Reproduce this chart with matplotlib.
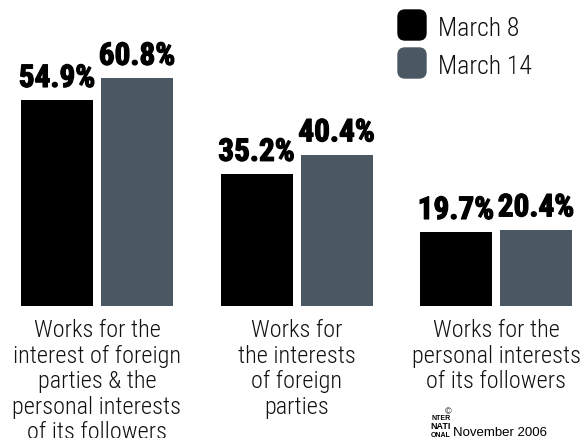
import matplotlib
matplotlib.use("Agg")
import matplotlib.pyplot as plt
import matplotlib.patheffects as pe
from matplotlib.patches import FancyBboxPatch
import numpy as np

# data
categories = [
    "Works for the\ninterest of foreign\nparties & the\npersonal interests\nof its followers",
    "Works for\nthe interests\nof foreign\nparties",
    "Works for the\npersonal interests\nof its followers",
]
series_names = ["March 8", "March 14"]
march_8 = [54.9, 35.2, 19.7]
march_14 = [60.8, 40.4, 20.4]
colors = ["#000000", "#4b5763"]

W, H = 584, 439
fig = plt.figure(figsize=(W / 100, H / 100), dpi=100)
ax = fig.add_axes([0, 0, 1, 1])

# pixel geometry -> data limits (groups 199.5 px apart, baseline at y=307 px)
group_px = 199.5
first_px = 97
unit_px = 3.75
base_px = 307
ax.set_xlim(-first_px / group_px, (W - first_px) / group_px)
ax.set_ylim(-(H - base_px) / unit_px, base_px / unit_px)
ax.axis("off")

COND = "Roboto Condensed"

x = np.arange(len(categories))
width = 72 / group_px
off = 40 / group_px

heavy = [pe.withStroke(linewidth=0.9, foreground="black")]
for vals, dx, c in [(march_8, -off, colors[0]), (march_14, off, colors[1])]:
    bars = ax.bar(x + dx, vals, width, color=c)
    for b, v in zip(bars, vals):
        ax.annotate(f"{v}%", (b.get_x() + b.get_width() / 2, v),
                    xytext=(0, 9.5), textcoords="offset points",
                    ha="center", va="baseline", path_effects=heavy,
                    family=COND, weight="bold", size=22.5)

for xi, lab in zip(x, categories):
    ax.annotate(lab, (xi, 0), xytext=(0, -9), textcoords="offset points",
                ha="center", va="top", family=COND, weight="light",
                size=17.5, linespacing=1.13, color="#111111")

# legend with rounded swatches (figure pixel coords)
def px(xp, yp):
    return xp / W, 1 - yp / H

for i, (name, c) in enumerate(zip(series_names, colors)):
    top = 11 + i * 38
    x0, y0 = px(398, top + 30)
    sw = FancyBboxPatch((x0, y0), 28 / W, 30 / H,
                        boxstyle="round,pad=0,rounding_size=0.012",
                        transform=fig.transFigure, color=c, mutation_aspect=W / H)
    fig.patches.append(sw)
    tx, ty = px(438, top + 25)
    fig.text(tx, ty, name, family=COND, weight="light", size=18.5,
             va="baseline", ha="left", color="#111111")

# footer
lx, ly = px(431, 420)
fig.text(lx, ly, "NTER", family="Liberation Sans", weight="bold", size=5, va="baseline")
lx, ly = px(430, 429)
fig.text(lx, ly, "NATI", family="Liberation Sans", weight="bold", size=6.5, va="baseline")
lx, ly = px(431, 437)
fig.text(lx, ly, "ONAL", family="Liberation Sans", weight="bold", size=5, va="baseline")
lx, ly = px(445, 414)
fig.text(lx, ly, "©", family="Liberation Sans", size=6.5, va="baseline")
fx, fy = px(453, 436)
fig.text(fx, fy, "November 2006", family="Liberation Sans", size=9.5, va="baseline")

fig.savefig("out.png", dpi=100)
